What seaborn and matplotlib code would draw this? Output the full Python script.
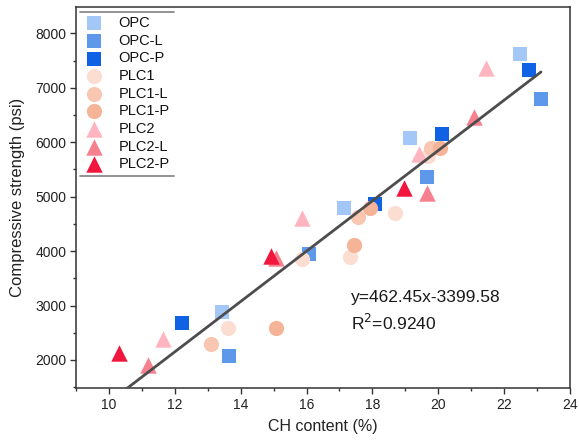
import numpy as np
import pandas as pd
import matplotlib
matplotlib.use("Agg")
import matplotlib.pyplot as plt
import seaborn as sns
from matplotlib.lines import Line2D

# ---- data (CH content %, compressive strength psi) ----
opc_x = [13.43, 17.14, 19.15, 22.48]
opc_y = [2876, 4786, 6083, 7620]
opcl_x = [13.64, 16.08, 19.65, 23.12]
opcl_y = [2073, 3941, 5366, 6793]
opcp_x = [12.23, 18.09, 20.12, 22.76]
opcp_y = [2674, 4865, 6145, 7326]
plc1_x = [13.61, 15.87, 17.32, 18.69, 19.70]
plc1_y = [2594, 3849, 3897, 4706, 5740]
plc1l_x = [13.10, 17.55, 19.79]
plc1l_y = [2288, 4620, 5888]
plc1p_x = [15.06, 17.45, 17.94, 20.06]
plc1p_y = [2594, 4112, 4797, 5888]
plc2_x = [11.63, 15.85, 19.41, 21.44]
plc2_y = [2380, 4602, 5783, 7357]
plc2l_x = [11.20, 15.06, 19.66, 21.08]
plc2l_y = [1908, 3868, 5073, 6457]
plc2p_x = [10.31, 14.93, 18.95]
plc2p_y = [2134, 3910, 5153]

groups = ["OPC", "OPC-L", "OPC-P", "PLC1", "PLC1-L", "PLC1-P", "PLC2", "PLC2-L", "PLC2-P"]
xs = [opc_x, opcl_x, opcp_x, plc1_x, plc1l_x, plc1p_x, plc2_x, plc2l_x, plc2p_x]
ys = [opc_y, opcl_y, opcp_y, plc1_y, plc1l_y, plc1p_y, plc2_y, plc2l_y, plc2p_y]

slope = 462.45
intercept = -3399.58
r2 = 0.9240

# ---- styles ----
colors = {"OPC": "#A3C7F7", "OPC-L": "#5E98EA", "OPC-P": "#0E62E3",
          "PLC1": "#FCDDD2", "PLC1-L": "#F9C7B1", "PLC1-P": "#F5B398",
          "PLC2": "#FFB5C0", "PLC2-L": "#F7808F", "PLC2-P": "#F0163E"}
markers = {"OPC": "s", "OPC-L": "s", "OPC-P": "s",
           "PLC1": "o", "PLC1-L": "o", "PLC1-P": "o",
           "PLC2": "^", "PLC2-L": "^", "PLC2-P": "^"}
sizes = {"s": 90, "o": 120, "^": 140}

sns.set_theme(style="ticks")
plt.rcParams["font.family"] = ["Liberation Sans", "DejaVu Sans"]

fig = plt.figure(figsize=(5.79, 4.47), dpi=100)
ax = fig.add_axes([76/579, 1-388.3/447, (570-76)/579, (388.3-7.3)/447])

for g, gx, gy in zip(groups, xs, ys):
    m = markers[g]
    sns.scatterplot(x=gx, y=gy, color=colors[g], marker=m, s=sizes[m],
                    linewidth=0, label=g, ax=ax, zorder=2)

allx = np.concatenate([np.array(v) for v in xs])
fx = np.linspace(allx.min(), allx.max(), 50)
sns.lineplot(x=fx, y=slope*fx + intercept, color="#4d4d4d", lw=2.0, ax=ax,
             zorder=3, legend=False)

ax.set_xlim(9, 24)
ax.set_ylim(1480, 8480)
ax.set_xticks(np.arange(10, 25, 2))
ax.set_xticks(np.arange(9, 24.5, 1), minor=True)
ax.set_yticks(np.arange(2000, 8001, 1000))
ax.set_yticks(np.arange(1500, 8500, 500), minor=True)
ax.tick_params(which="major", direction="out", length=4, width=1.0,
               labelsize=10, color="#333333", labelcolor="#222222", pad=3)
ax.tick_params(which="minor", direction="out", length=2.5, width=1.0, color="#333333")
for sp in ax.spines.values():
    sp.set_color("#333333")
    sp.set_linewidth(1.1)

ax.set_xlabel("CH content (%)", fontsize=11.5, color="#222222", labelpad=5)
ax.set_ylabel("Compressive strength (psi)", fontsize=12, color="#222222", labelpad=7)

ax.text(17.36, 3157, f"y={slope}x{intercept:+.2f}", fontsize=12.5,
        va="center", ha="left", color="#1a1a1a")
ax.text(17.36, 2680, f"R$^2$={r2:.4f}", fontsize=12.5, va="center", ha="left",
        color="#1a1a1a")

leg = ax.legend(loc="upper left", bbox_to_anchor=(0.0, 1.0), frameon=True,
                fontsize=10.5, handletextpad=1.1, labelspacing=0.25,
                borderaxespad=0.3, borderpad=0.3, handlelength=1.2,
                markerscale=1.0)
leg.get_frame().set_edgecolor("none")
leg.get_frame().set_facecolor("white")
leg.get_frame().set_alpha(1)
for t in leg.get_texts():
    t.set_color("#111111")

fig.canvas.draw()
bb = leg.get_window_extent().transformed(fig.transFigure.inverted())
for yy in (bb.y0, bb.y1):
    fig.add_artist(Line2D([bb.x0, bb.x1], [yy, yy], transform=fig.transFigure,
                          color="#8a8a8a", lw=1.3, zorder=5))

fig.savefig("out.png", dpi=100)
